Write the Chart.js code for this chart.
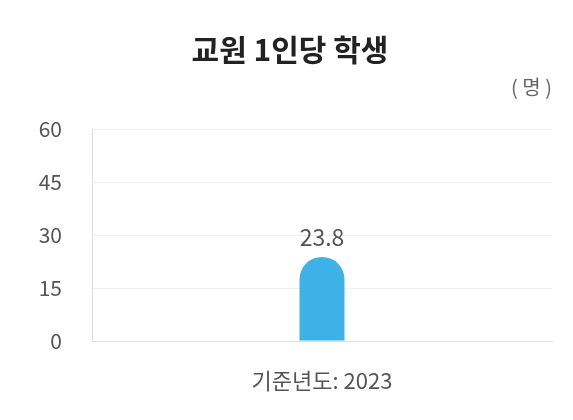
<!DOCTYPE html>
<html><head><meta charset="utf-8">
<script src="https://cdn.jsdelivr.net/npm/chart.js@4"></script>
<style>html,body{margin:0;padding:0;background:#fff}#c{display:block}</style>
</head><body>
<div style="width:573px;height:420px"><canvas id="c"></canvas></div>
<script>
const categories = ['기준년도: 2023'];
const values = [23.8];
const yTicks = [0, 15, 30, 45, 60];
const titleText = '교원 1인당 학생';
const unitText = '( 명 )';
const FONT = '"Noto Sans CJK KR", "Noto Sans", sans-serif';

const textPlugin = {
  id: 'texts',
  afterDraw(chart) {
    const ctx = chart.ctx;
    ctx.save();
    ctx.fillStyle = '#222';
    ctx.font = 'bold 30px ' + FONT;
    ctx.textAlign = 'center'; ctx.textBaseline = 'middle';
    ctx.fillText(titleText, 290, 50);
    ctx.fillStyle = '#666';
    ctx.font = '20px ' + FONT;
    ctx.textAlign = 'right';
    ctx.fillText(unitText, 552, 87);
    const meta = chart.getDatasetMeta(0);
    ctx.textAlign = 'center'; ctx.textBaseline = 'bottom';
    ctx.font = '23px ' + FONT;
    ctx.fillStyle = '#555';
    meta.data.forEach((el, i) => ctx.fillText(values[i].toFixed(1), el.x, el.y - 8));
    ctx.restore();
  }
};

new Chart(document.getElementById('c'), {
  type: 'bar',
  data: { labels: categories, datasets: [{ data: values, backgroundColor: '#3eb1e6',
    maxBarThickness: 45, borderRadius: { topLeft: 23, topRight: 23 }, borderSkipped: 'bottom' }] },
  options: {
    responsive: true, maintainAspectRatio: false, animation: false,
    layout: { padding: { top: 129, right: 21, left: 0, bottom: 0 } },
    plugins: { legend: { display: false }, tooltip: { enabled: false }, title: { display: false } },
    scales: {
      x: { grid: { display: false }, border: { color: '#ddd' },
        ticks: { color: '#555', font: { family: FONT, size: 22 }, padding: 18 },
        afterFit(s) { s.height = 79; } },
      y: { min: 0, max: 60, afterBuildTicks(s) { s.ticks = yTicks.map(v => ({ value: v })); },
        grid: { color: '#eeeeee', drawTicks: false }, border: { color: '#ddd' },
        ticks: { color: '#555', font: { family: FONT, size: 21 }, padding: 30 },
        afterFit(s) { s.width = 92; } }
    }
  },
  plugins: [textPlugin]
});
</script></body></html>
